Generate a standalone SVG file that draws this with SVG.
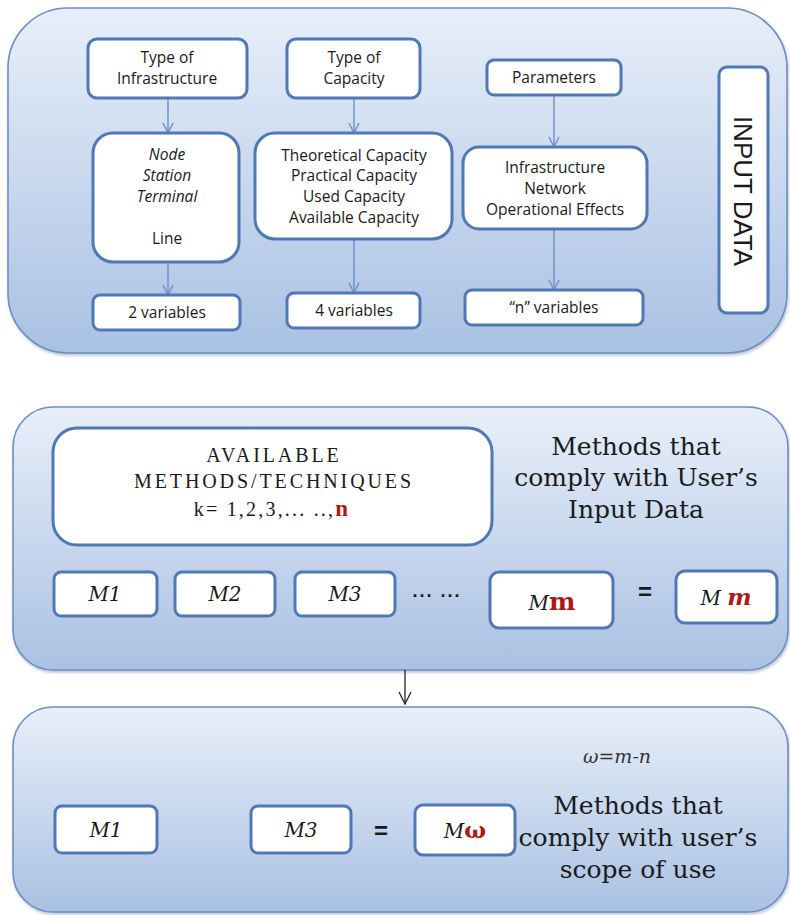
<svg xmlns="http://www.w3.org/2000/svg" width="790" height="915" viewBox="0 0 790 915">
<defs>
<linearGradient id="pg" x1="0" y1="0" x2="0" y2="1">
<stop offset="0" stop-color="#e8eff9"/>
<stop offset="1" stop-color="#a9c1e3"/>
</linearGradient>
<filter id="sh" x="-5%" y="-5%" width="110%" height="115%">
<feDropShadow dx="1" dy="2" stdDeviation="1.5" flood-color="#6a7f9f" flood-opacity="0.45"/>
</filter>
<marker id="ab" viewBox="0 0 12 12" refX="11" refY="6" markerWidth="12" markerHeight="12" markerUnits="userSpaceOnUse" orient="auto">
<path d="M1,1 L11,6 L1,11" fill="none" stroke="#6a8fc8" stroke-width="1.4"/>
</marker>
<marker id="ak" viewBox="0 0 14 14" refX="13" refY="7" markerWidth="14" markerHeight="14" markerUnits="userSpaceOnUse" orient="auto">
<path d="M1,1 L13,7 L1,13" fill="none" stroke="#222" stroke-width="1.3"/>
</marker>
</defs>
<style>
.panel{fill:url(#pg);stroke:#6f8fc2;stroke-width:1.6;filter:url(#sh)}
.box{fill:#fff;stroke:#4f78b4;stroke-width:3}
.s{font-family:"Open Sans","Noto Sans","Liberation Sans",sans-serif;font-size:15.5px;fill:#1a1a1a;text-anchor:middle}
.si{font-style:italic}
.big{font-family:"DejaVu Serif","Liberation Serif",serif;font-size:25px;fill:#1a1a1a;text-anchor:middle}
.mono{font-family:"Liberation Serif",serif;font-size:20px;fill:#1a1a1a;text-anchor:middle;letter-spacing:2.9px}
.m{font-family:"DejaVu Serif","Liberation Serif",serif;font-style:italic;font-size:20px;fill:#1a1a1a;text-anchor:middle}
.red{fill:#b01818;font-weight:bold}
.eq{font-family:"Liberation Sans",sans-serif;font-size:24px;font-weight:bold;fill:#1a1a1a;text-anchor:middle}
.conn{stroke:#6a8fc8;stroke-width:1.4;fill:none}
</style>

<g id="panel-input">
<rect class="panel" x="8" y="8" width="779" height="345" rx="60"/>
</g>
<g id="panel-methods">
<rect class="panel" x="13" y="407" width="775" height="263" rx="40"/>
</g>
<g id="panel-scope">
<rect class="panel" x="13" y="707" width="775" height="205" rx="40"/>
</g>

<g id="connectors">
<line class="conn" x1="168" y1="98" x2="168" y2="133" marker-end="url(#ab)"/>
<line class="conn" x1="168" y1="262" x2="168" y2="295" marker-end="url(#ab)"/>
<line class="conn" x1="354" y1="98" x2="354" y2="133" marker-end="url(#ab)"/>
<line class="conn" x1="354" y1="240" x2="354" y2="293" marker-end="url(#ab)"/>
<line class="conn" x1="554" y1="95" x2="554" y2="147" marker-end="url(#ab)"/>
<line class="conn" x1="554" y1="229" x2="554" y2="290" marker-end="url(#ab)"/>
<line x1="405" y1="670" x2="405" y2="704" stroke="#222" stroke-width="1.3" marker-end="url(#ak)"/>
</g>

<g id="type-infra">
<rect class="box" x="88" y="39" width="159" height="59" rx="9"/>
<text class="s" x="167" y="63">Type of</text>
<text class="s" x="167" y="84">Infrastructure</text>
</g>
<g id="infra-list">
<rect class="box" x="93" y="133" width="146" height="129" rx="20"/>
<text class="s si" x="167" y="160">Node</text>
<text class="s si" x="167" y="181">Station</text>
<text class="s si" x="167" y="202">Terminal</text>
<text class="s" x="167" y="244">Line</text>
</g>
<g id="vars-2">
<rect class="box" x="93" y="295" width="147" height="35" rx="7"/>
<text class="s" x="167" y="318">2 variables</text>
</g>
<g id="type-capacity">
<rect class="box" x="287" y="39" width="133" height="59" rx="9"/>
<text class="s" x="354" y="63">Type of</text>
<text class="s" x="354" y="84">Capacity</text>
</g>
<g id="capacity-list">
<rect class="box" x="255" y="133" width="197" height="106" rx="20"/>
<text class="s" x="354" y="161">Theoretical Capacity</text>
<text class="s" x="354" y="181">Practical Capacity</text>
<text class="s" x="354" y="202">Used Capacity</text>
<text class="s" x="354" y="223">Available Capacity</text>
</g>
<g id="vars-4">
<rect class="box" x="287" y="293" width="133" height="35" rx="7"/>
<text class="s" x="354" y="316">4 variables</text>
</g>
<g id="parameters">
<rect class="box" x="487" y="60" width="134" height="35" rx="7"/>
<text class="s" x="554" y="83">Parameters</text>
</g>
<g id="param-list">
<rect class="box" x="463" y="147" width="184" height="82" rx="16"/>
<text class="s" x="555" y="173">Infrastructure</text>
<text class="s" x="555" y="194">Network</text>
<text class="s" x="555" y="215">Operational Effects</text>
</g>
<g id="vars-n">
<rect class="box" x="465" y="290" width="178" height="35" rx="7"/>
<text class="s" x="554" y="313">“n” variables</text>
</g>
<g id="input-data">
<rect class="box" x="719" y="67" width="49" height="246" rx="8"/>
<text x="743" y="191" transform="rotate(90 743 191)" font-family="Liberation Sans,Arial,sans-serif" font-size="26" fill="#1a1a1a" text-anchor="middle" dominant-baseline="central">INPUT DATA</text>
</g>

<g id="available">
<rect class="box" x="53" y="428" width="439" height="117" rx="24"/>
<text class="mono" x="274" y="462">AVAILABLE</text>
<text class="mono" x="274" y="488">METHODS/TECHNIQUES</text>
<text class="mono" x="272" y="516" style="letter-spacing:2.2px">k= 1,2,3,... ..,<tspan class="red" font-size="23">n</tspan></text>
</g>
<g id="methods-label-1">
<text class="big" x="636" y="455">Methods that</text>
<text class="big" x="636" y="486">comply with User’s</text>
<text class="big" x="636" y="518">Input Data</text>
</g>
<g id="m1">
<rect class="box" x="54" y="572" width="103" height="44" rx="7"/>
<text class="m" x="105" y="601">M1</text>
</g>
<g id="m2">
<rect class="box" x="175" y="572" width="100" height="44" rx="7"/>
<text class="m" x="225" y="601">M2</text>
</g>
<g id="m3">
<rect class="box" x="295" y="572" width="100" height="44" rx="7"/>
<text class="m" x="345" y="601">M3</text>
</g>
<g id="dots">
<text x="437" y="597" font-family="Liberation Sans,sans-serif" font-size="18" font-weight="bold" fill="#1a1a1a" text-anchor="middle" letter-spacing="2">... ...</text>
</g>
<g id="mm1">
<rect class="box" x="490" y="572" width="123" height="56" rx="9"/>
<text x="552" y="610" text-anchor="middle"><tspan class="m" font-size="16">M</tspan><tspan font-family="DejaVu Serif,serif" font-size="25" font-weight="bold" fill="#b01818">m</tspan></text>
</g>
<g id="eq1">
<text class="eq" x="645" y="600">=</text>
</g>
<g id="mm2">
<rect class="box" x="676" y="571" width="101" height="52" rx="9"/>
<text x="726" y="605" text-anchor="middle"><tspan class="m" font-size="16">M </tspan><tspan font-family="DejaVu Serif,serif" font-size="23" font-style="italic" font-weight="bold" fill="#b01818">m</tspan></text>
</g>

<g id="omega-eq">
<text x="617" y="763" font-family="DejaVu Serif,serif" font-style="italic" font-size="19" fill="#333" text-anchor="middle">ω=m-n</text>
</g>
<g id="m1b">
<rect class="box" x="55" y="806" width="102" height="47" rx="7"/>
<text class="m" x="106" y="837">M1</text>
</g>
<g id="m3b">
<rect class="box" x="251" y="806" width="100" height="47" rx="7"/>
<text class="m" x="301" y="837">M3</text>
</g>
<g id="eq2">
<text class="eq" x="381" y="839">=</text>
</g>
<g id="mw">
<rect class="box" x="415" y="805" width="100" height="50" rx="8"/>
<text x="465" y="838" text-anchor="middle"><tspan class="m" font-size="16">M</tspan><tspan font-family="DejaVu Serif,serif" font-size="23" font-weight="bold" fill="#b01818">ω</tspan></text>
</g>
<g id="methods-label-2">
<text class="big" x="638" y="814">Methods that</text>
<text class="big" x="638" y="846">comply with user’s</text>
<text class="big" x="638" y="878">scope of use</text>
</g>
</svg>
